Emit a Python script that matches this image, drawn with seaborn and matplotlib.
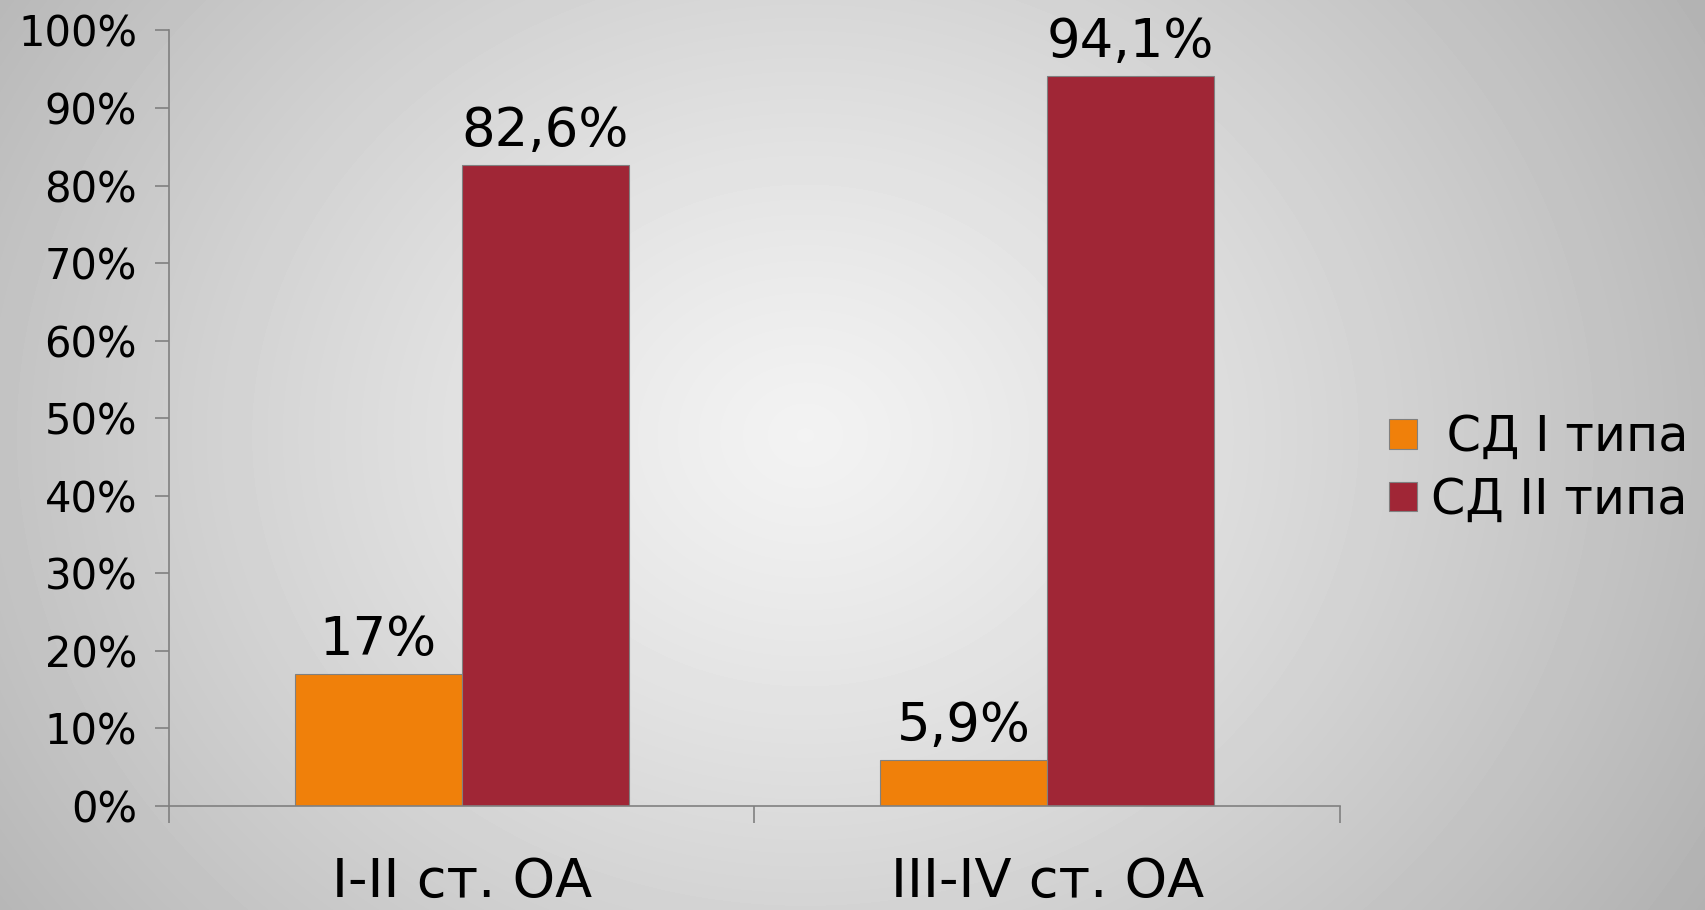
import numpy as np
import pandas as pd
import seaborn as sns
import matplotlib.pyplot as plt

stages = ['I-II ст. ОА', 'III-IV ст. ОА']
types = [' СД I типа', 'СД II типа']
type1_vals = [17.0, 5.9]
type2_vals = [82.6, 94.1]
type1_labels = ['17%', '5,9%']
type2_labels = ['82,6%', '94,1%']
colors = ['#F0800A', '#A02636']

df = pd.DataFrame({
    'stage': stages * 2,
    'type': [types[0]] * 2 + [types[1]] * 2,
    'value': type1_vals + type2_vals,
})

sns.set_theme(style="white", rc={'text.color': 'black', 'xtick.color': 'black', 'ytick.color': 'black'})
plt.rcParams['font.family'] = ['DejaVu Sans']

fig = plt.figure(figsize=(17.06, 9.10), dpi=100)

# radial grey background
bg = fig.add_axes([0, 0, 1, 1], zorder=-10)
yy, xx = np.mgrid[0:910, 0:1706]
r = np.sqrt(((xx - 805) / 1000.0) ** 2 + ((yy - 435) / 850.0) ** 2)
shade = 0.95 - 0.24 * np.clip(r, 0, 1.2) ** 1.2
bg.imshow(shade, cmap='gray', vmin=0, vmax=1, aspect='auto', extent=[0, 1, 0, 1])
bg.set_axis_off()

ax = fig.add_axes([0.099, 0.1143, 0.6865, 0.8522])
ax.patch.set_alpha(0)
sns.barplot(data=df, x='stage', y='value', hue='type', palette=colors,
            width=0.57, saturation=1, edgecolor='#808080', linewidth=0.8,
            ax=ax, legend=True)

for cont, labs in zip(ax.containers, [type1_labels, type2_labels]):
    ax.bar_label(cont, labels=labs, padding=6, fontsize=38, color='black')

ax.set_ylim(0, 100)
ax.set_xlim(-0.5, 1.5)
ax.set_yticks(range(0, 101, 10))
ax.set_yticklabels([f'{v}%' for v in range(0, 101, 10)], fontsize=30)
ax.set_xticks([0, 1])
ax.set_xticklabels(stages, fontsize=39)
ax.set_xticks([-0.5, 0.5, 1.5], minor=True)
ax.tick_params(axis='x', which='major', length=0, pad=36)
ax.tick_params(axis='x', which='minor', length=12, width=1.2, color='#808080', direction='out', bottom=True)
ax.tick_params(axis='y', length=10, width=1.2, color='#808080', direction='out', left=True, pad=13)
ax.set_xlabel('')
ax.set_ylabel('')
for s in ['top', 'right']:
    ax.spines[s].set_visible(False)
for s in ['left', 'bottom']:
    ax.spines[s].set_color('#808080')
    ax.spines[s].set_linewidth(1.2)

leg = ax.legend(loc='center left', bbox_to_anchor=(0.8, 0.485), bbox_transform=fig.transFigure,
                frameon=False, fontsize=35.5, handlelength=0.55, handleheight=0.55,
                handletextpad=0.3, labelspacing=0.3, borderpad=0)

fig.savefig('out.png', dpi=100)
